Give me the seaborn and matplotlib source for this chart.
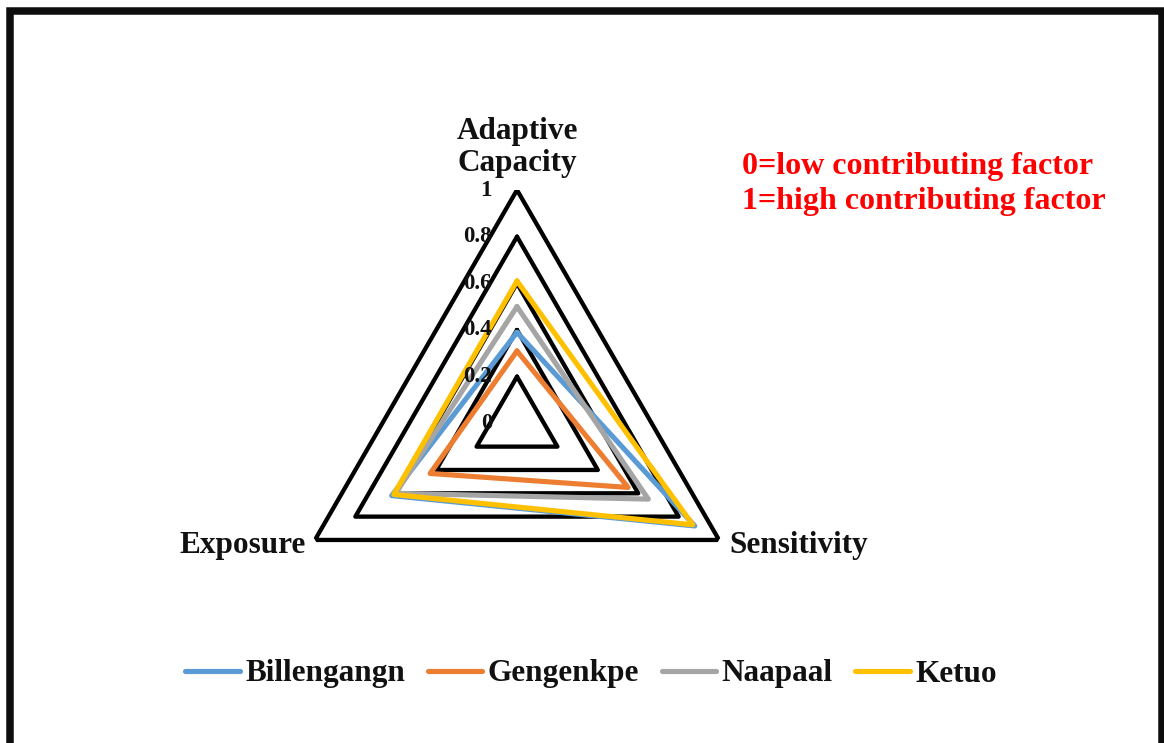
import numpy as np
import pandas as pd
import matplotlib
matplotlib.use("Agg")
import matplotlib.pyplot as plt
import seaborn as sns
from matplotlib.patches import Rectangle

# ---- data ----
axes_labels = ["Adaptive\nCapacity", "Sensitivity", "Exposure"]
series_names = ["Billengangn", "Gengenkpe", "Naapaal", "Ketuo"]
billengangn = [0.39, 0.88, 0.62]
gengenkpe = [0.31, 0.55, 0.43]
naapaal = [0.50, 0.65, 0.60]
ketuo = [0.61, 0.87, 0.61]
grid_levels = [0.2, 0.4, 0.6, 0.8, 1.0]
tick_labels = ["0", "0.2", "0.4", "0.6", "0.8", "1"]
tick_values = [0.0, 0.2, 0.4, 0.6, 0.8, 1.0]
colors = ["#5B9BD5", "#ED7D31", "#A5A5A5", "#FFC000"]

sns.set_theme(style="white")
plt.rcParams["font.family"] = ["Liberation Serif", "DejaVu Serif"]
plt.rcParams["font.weight"] = "bold"

n = len(axes_labels)
theta = np.arange(n) * 2 * np.pi / n
theta_closed = np.append(theta, 2 * np.pi)

rows = []
for name, vals in zip(series_names, [billengangn, gengenkpe, naapaal, ketuo]):
    vc = list(vals) + [vals[0]]
    for t, v in zip(theta_closed, vc):
        rows.append({"series": name, "theta": t, "value": v})
df = pd.DataFrame(rows)

W, H = 1164, 743
fig = plt.figure(figsize=(W / 100, H / 100), dpi=100)
cx, cy, R = 517, 423.3, 233.3
ax = fig.add_axes([(cx - R) / W, 1 - (cy + R) / H, 2 * R / W, 2 * R / H], projection="polar")
ax.set_theta_zero_location("N")
ax.set_theta_direction(-1)
ax.set_ylim(0, 1)
ax.grid(False)
ax.set_xticks([])
ax.set_yticks([])
ax.spines["polar"].set_visible(False)
ax.patch.set_alpha(0)

for lev in grid_levels:
    ax.plot(theta_closed, [lev] * (n + 1), color="black", lw=3.1,
            solid_joinstyle="miter", zorder=1)

sns.lineplot(data=df, x="theta", y="value", hue="series", hue_order=series_names,
             palette=colors, sort=False, estimator=None, lw=3.7, ax=ax, zorder=3)
for ln in ax.get_lines():
    ln.set_solid_joinstyle("round")
    ln.set_solid_capstyle("round")
handles, labels = ax.get_legend_handles_labels()
if ax.get_legend() is not None:
    ax.get_legend().remove()
ax.set_xlabel("")
ax.set_ylabel("")

for tv, tl in zip(tick_values, tick_labels):
    ax.annotate(tl, xy=(0, tv), xytext=(-25 * 0.72, 0), textcoords="offset points",
                ha="right", va="center", fontsize=16.5, fontweight="bold", color="#111111",
                zorder=5)

# axis category labels
ax.annotate(axes_labels[0], xy=(0, 1), xytext=(0, 12 * 0.72), textcoords="offset points",
            ha="center", va="bottom", fontsize=22.5, fontweight="bold",
            linespacing=1.12, color="#111111", annotation_clip=False)
ax.annotate(axes_labels[1], xy=(theta[1], 1), xytext=(10 * 0.72, -6 * 0.72),
            textcoords="offset points", ha="left", va="center", fontsize=22.5,
            fontweight="bold", color="#111111", annotation_clip=False)
ax.annotate(axes_labels[2], xy=(theta[2], 1), xytext=(-9 * 0.72, -6 * 0.72),
            textcoords="offset points", ha="right", va="center", fontsize=22.5,
            fontweight="bold", color="#111111", annotation_clip=False)

fig.text(742 / W, 1 - 152 / H, "0=low contributing factor\n1=high contributing factor",
         ha="left", va="top", fontsize=23, fontweight="bold", color="#FF0000",
         linespacing=1.25)

leg = fig.legend(handles, labels, loc="center", bbox_to_anchor=(591 / W, 1 - 674 / H),
                 ncol=4, frameon=False, fontsize=22.5, handlelength=1.75,
                 handletextpad=0.17, columnspacing=0.72)
for h in leg.legend_handles:
    h.set_linewidth(3.7)
    h.set_solid_capstyle("round")
for t in leg.get_texts():
    t.set_fontweight("bold")
    t.set_color("#111111")

fig.add_artist(Rectangle((10.5 / W, -20 / H), (1162 - 10.5) / W, (H - 11 + 20) / H,
                         transform=fig.transFigure, fill=False, edgecolor="#0d0d0d",
                         lw=5.4, clip_on=False))

fig.savefig("out.png", dpi=100, facecolor="white")
